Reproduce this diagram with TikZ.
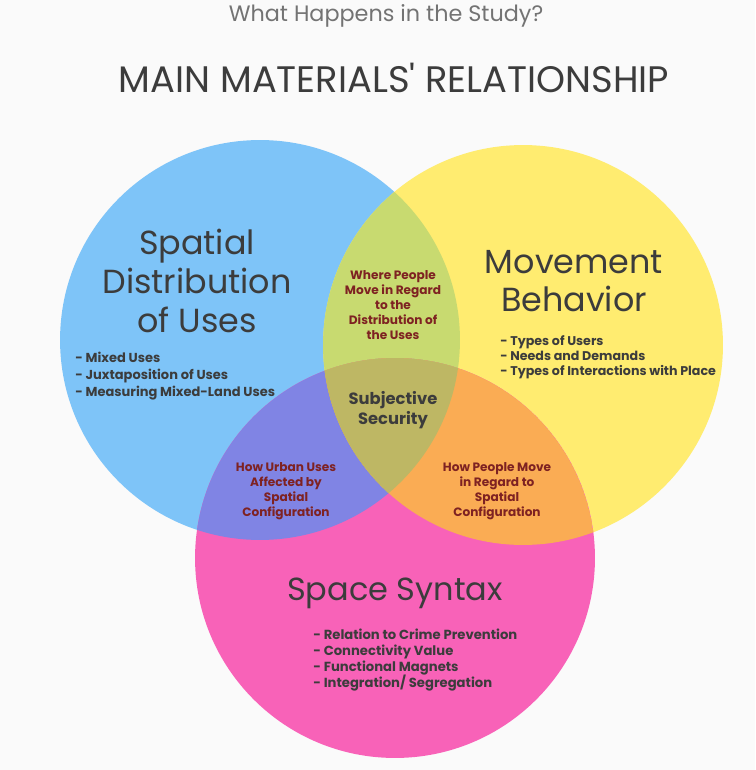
\documentclass[tikz,border=0pt]{standalone}
\usepackage{fontspec}
\setmainfont{Poppins}
\usepackage{tikz}
\usetikzlibrary{positioning}

\definecolor{paper}{HTML}{FAFAFA}
\definecolor{usesBlue}{HTML}{7EC4F8}
\definecolor{moveYellow}{HTML}{FFEC70}
\definecolor{syntaxPink}{HTML}{F862B8}
\definecolor{usesMove}{HTML}{C8DA70}
\definecolor{usesSyntax}{HTML}{8084E4}
\definecolor{moveSyntax}{HTML}{FAAC54}
\definecolor{allThree}{HTML}{BEB764}
\definecolor{inkGray}{HTML}{3C3C3C}
\definecolor{inkRed}{HTML}{7E2222}

% straight apostrophe, no tex-text mapping
\newcommand{\straightquote}{{\XeTeXglyph\XeTeXcharglyph"0027\relax}}

\tikzset{
  bigtitle/.style={text=inkGray, font=\fontsize{19}{22}\selectfont, align=center, inner sep=0pt},
  bullets/.style={text=inkGray, font=\bfseries\fontsize{7.4}{9.6}\selectfont, align=left, anchor=west, inner sep=0pt},
  overlap/.style={text=inkRed, font=\bfseries\fontsize{6.9}{8.5}\selectfont, align=center, inner sep=0pt}
}

\begin{document}
\begin{tikzpicture}[x=0.02cm, y=-0.02cm]
        % Define the frame
        \fill[paper] (0,0) rectangle (755,770);
        \useasboundingbox (0,0) rectangle (755,770);

        % Define the circles
        \coordinate (uses) at (260,340);
        \coordinate (move) at (523,345);
        \coordinate (syntax) at (395,558);
        \fill[usesBlue] (uses) circle[radius=4cm];
        \fill[moveYellow] (move) circle[radius=4cm];
        \fill[syntaxPink] (syntax) circle[radius=4cm];

        % Fill the overlaps
        \begin{scope}
            \clip (uses) circle[radius=4cm];
            \fill[usesMove] (move) circle[radius=4cm];
            \fill[usesSyntax] (syntax) circle[radius=4cm];
            \clip (move) circle[radius=4cm];
            \fill[allThree] (syntax) circle[radius=4cm];
        \end{scope}
        \begin{scope}
            \clip (move) circle[radius=4cm];
            \clip (syntax) circle[radius=4cm];
            \fill[moveSyntax] (syntax) circle[radius=4cm];
            \clip (uses) circle[radius=4cm];
            \fill[allThree] (syntax) circle[radius=4cm];
        \end{scope}

        % Define the titles
        \node[text=gray!90!black, font=\fontsize{12.7}{14}\selectfont, inner sep=0pt] (study) at (386,16) {What Happens in the Study?};
        \node[bigtitle, font=\fontsize{21}{24}\selectfont] (main) at (394,78) {MAIN MATERIALS\straightquote\ RELATIONSHIP};

        % Define the sets
        \node[bigtitle] (usesName) at (197,281) {Spatial\\Distribution\\of Uses};
        \node[bigtitle] (moveName) at (574,281) {Movement\\Behavior};
        \node[bigtitle, font=\fontsize{18.2}{22}\selectfont] (syntaxName) at (395,593) {Space Syntax};

        \node[bullets] (usesList) at (75,376) {- Mixed Uses\\- Juxtaposition of Uses\\- Measuring Mixed-Land Uses};
        \node[bullets, font=\bfseries\fontsize{7.2}{8.6}\selectfont] (moveList) at (500,357) {- Types of Users\\- Needs and Demands\\- Types of Interactions with Place};
        \node[bullets, font=\bfseries\fontsize{7.5}{9.2}\selectfont] (syntaxList) at (313,660) {- Relation to Crime Prevention\\- Connectivity Value\\- Functional Magnets\\- Integration/ Segregation};

        % Define the overlaps
        \node[overlap] (usesMoveTxt) at (393,305) {Where People\\Move in Regard\\to the\\Distribution of\\the Uses};
        \node[overlap] (usesSyntaxTxt) at (286,491) {How Urban Uses\\Affected by\\Spatial\\Configuration};
        \node[overlap] (moveSyntaxTxt) at (497,491) {How People Move\\in Regard to\\Spatial\\Configuration};
        \node[overlap, text=inkGray, font=\bfseries\fontsize{9.3}{11}\selectfont] (allTxt) at (393,410) {Subjective\\Security};
    \end{tikzpicture}
\end{document}
